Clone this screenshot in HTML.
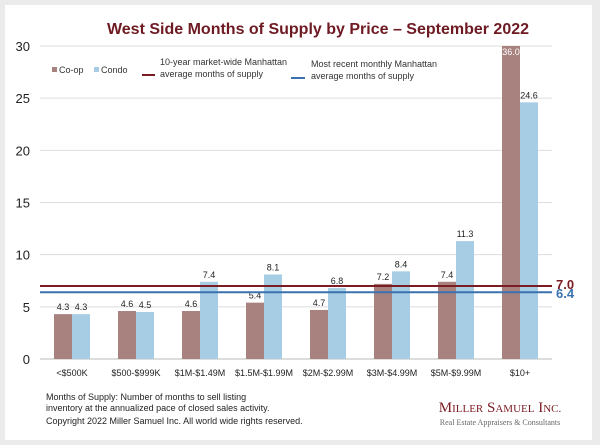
<!DOCTYPE html>
<html><head><meta charset="utf-8"><style>
body{margin:0;background:#ebebeb;font-family:"Liberation Sans",sans-serif;}
#card{position:absolute;left:5px;top:5px;width:587px;height:435px;background:#fff;}
svg{position:absolute;left:0;top:0;}
</style></head><body>
<div id="card"></div>
<svg width="600" height="445" id="chart">
<text x="318" y="34" text-anchor="middle" font-size="16" font-weight="bold" fill="#6e1a22">West Side Months of Supply by Price – September 2022</text>
<g id="grid"></g><g id="bars"></g><g id="labels"></g>
<g font-size="9" fill="#333">
<rect x="52" y="67" width="5" height="5" fill="#a8827f"/>
<text x="59" y="73">Co-op</text>
<rect x="94" y="67" width="5" height="5" fill="#a6cde3"/>
<text x="101" y="73">Condo</text>
<line x1="142" y1="75" x2="155" y2="75" stroke="#7b1c23" stroke-width="2"/>
<text x="160" y="65">10-year market-wide Manhattan</text>
<text x="160" y="77">average months of supply</text>
<line x1="291" y1="78" x2="305" y2="78" stroke="#3a72b0" stroke-width="2"/>
<text x="311" y="67">Most recent monthly Manhattan</text>
<text x="311" y="79">average months of supply</text>
</g>
<g font-size="9" fill="#222">
<text x="46" y="400">Months of Supply: Number of months to sell listing</text>
<text x="46" y="411">inventory at the annualized pace of closed sales activity.</text>
<text x="46" y="424">Copyright 2022 Miller Samuel Inc.  All world wide rights reserved.</text>
</g>
<text x="500" y="412" text-anchor="middle" font-family="Liberation Serif,serif" font-size="15" fill="#7b1c23">M<tspan font-size="11">ILLER</tspan> S<tspan font-size="11">AMUEL</tspan> I<tspan font-size="11">NC.</tspan></text>
<text x="500" y="425" text-anchor="middle" font-family="Liberation Serif,serif" font-size="8" fill="#666">Real Estate Appraisers &amp; Consultants</text>
</svg>
<script>
const categories=["<$500K","$500-$999K","$1M-$1.49M","$1.5M-$1.99M","$2M-$2.99M","$3M-$4.99M","$5M-$9.99M","$10+"];
const coop=[4.3,4.6,4.6,5.4,4.7,7.2,7.4,36.0];
const condo=[4.3,4.5,7.4,8.1,6.8,8.4,11.3,24.6];
const yTicks=[0,5,10,15,20,25,30];
const avg10yr=7.0;
const recentAvg=6.4;
const NS="http://www.w3.org/2000/svg";
const X0=40,X1=552,Y0=359,Y1=46,YMAX=30;
const y=v=>Y0-(Math.min(v,YMAX)/YMAX)*(Y0-Y1);
const bw=(X1-X0)/categories.length;
const cx=i=>X0+bw*(i+0.5);
function mk(p,t,a){const e=document.createElementNS(NS,t);for(const k in a)e.setAttribute(k,a[k]);p.appendChild(e);return e;}
const grid=document.getElementById('grid'),bars=document.getElementById('bars'),labels=document.getElementById('labels');
yTicks.forEach(t=>{
 const l=mk(grid,'line',{x1:X0,x2:X1,y1:y(t),y2:y(t),stroke:t===0?'#bbb':'#ddd','stroke-width':1});
 
 
 const tx=mk(grid,'text',{x:X0-10,y:y(t)+5,'text-anchor':'end','font-size':13,fill:'#222'});tx.textContent=t;
 
 
});
categories.forEach((c,i)=>{
 const w=18;
 [[coop[i],'#a8827f',-w,'coop'],[condo[i],'#a6cde3',0,'condo']].forEach(([v,col,off,s])=>{
  const r=mk(bars,'rect',{x:cx(i)+off,y:y(v),width:w,height:Y0-y(v),fill:col});
  
  
  const clipped=v>YMAX;
  const t=mk(labels,'text',{x:cx(i)+off+w/2,y:clipped?y(v)+9:y(v)-4,'text-anchor':'middle','font-size':9,fill:clipped?'#fff':'#222'});
  t.textContent=v.toFixed(1);
  
  
 });
 const t=mk(labels,'text',{x:cx(i),y:Y0+17,'text-anchor':'middle','font-size':9,fill:'#222'});t.textContent=c;
 
 
});
[[avg10yr,'#7b1c23','ten-year-avg'],[recentAvg,'#3a72b0','recent-avg']].forEach(([v,col,n],k)=>{
 const l=mk(labels,'line',{x1:X0,x2:X1,y1:y(v),y2:y(v),stroke:col,'stroke-width':2});
 
 
 const t=mk(labels,'text',{x:556,y:y(v)+(k===0?3:6),'font-size':13,'font-weight':'bold',fill:col});t.textContent=v.toFixed(1);
 
 
});
</script>
</body></html>
